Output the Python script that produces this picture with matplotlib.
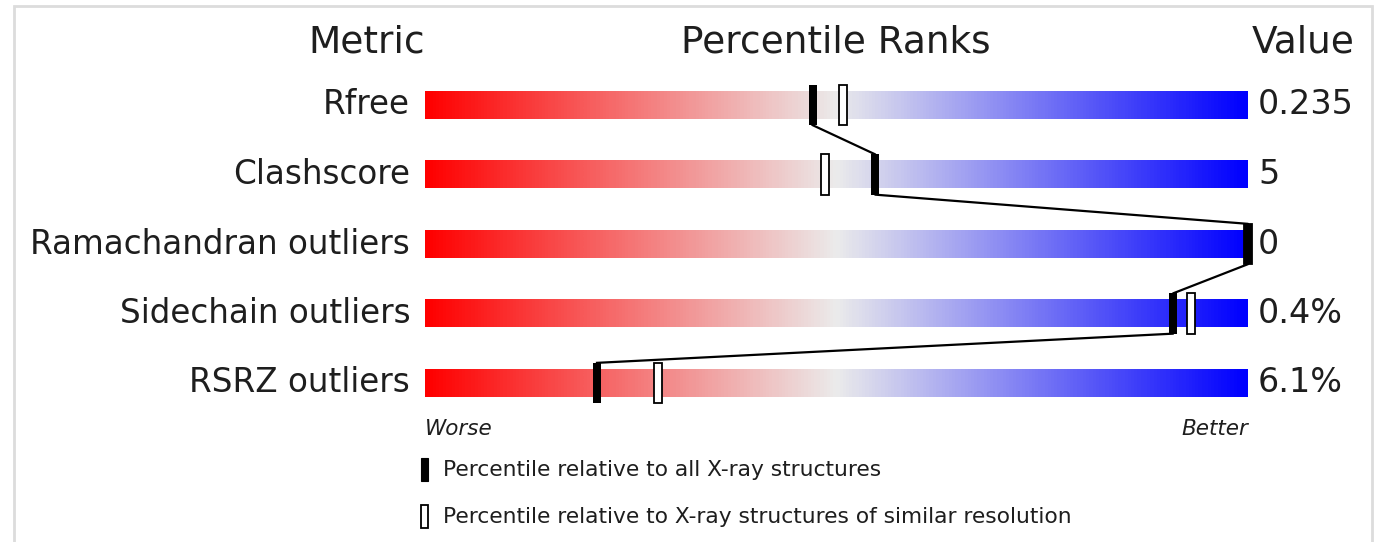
import matplotlib
matplotlib.use('Agg')
import matplotlib.pyplot as plt
import numpy as np
from matplotlib.colors import LinearSegmentedColormap
from matplotlib.patches import Rectangle

# Data read from the validation slider
metrics = ['Rfree', 'Clashscore', 'Ramachandran outliers', 'Sidechain outliers', 'RSRZ outliers']
values = ['0.235', '5', '0', '0.4%', '6.1%']
pct_all = [47.1, 54.7, 100.0, 90.9, 20.9]       # percentile vs all X-ray structures
pct_similar = [50.8, 48.6, 100.0, 93.1, 28.3]   # percentile vs similar resolution

W, H = 1388, 542
fig = plt.figure(figsize=(W / 100, H / 100), dpi=100)

def fx(px):
    return px / W

def fy(py):
    return 1 - py / H

# axes covers the bar area: x = percentile 0..100, y = row index
bar_left, bar_right = 425, 1248
row_top, row_bottom = 70.25, 417.75
ax = fig.add_axes([fx(bar_left), fy(row_bottom), fx(bar_right - bar_left), (row_bottom - row_top) / H])
ax.set_xlim(0, 100)
ax.set_ylim(len(metrics) - 0.5, -0.5)
ax.axis('off')

cmap = LinearSegmentedColormap.from_list('slider', ['#ff0000', '#ebebeb', '#0000ff'])
grad = np.linspace(0, 1, 256).reshape(1, -1)

bar_h = 0.40
mark_h = 0.58
mark_w = 0.95
text_col = '#1e1e1e'

for i, name in enumerate(metrics):
    ax.imshow(grad, cmap=cmap, aspect='auto', extent=[0, 100, i + bar_h / 2, i - bar_h / 2],
              interpolation='bilinear', zorder=1)
    ax.text(-1.8, i, name, ha='right', va='center', fontsize=23.5, color=text_col, clip_on=False)
    ax.text(101.2, i, values[i], ha='left', va='center', fontsize=24, color=text_col, clip_on=False)

# similar-resolution markers (open), then all-structures markers (filled)
ax.bar(pct_similar, mark_h, width=mark_w, bottom=[i - mark_h / 2 for i in range(len(metrics))],
       facecolor='white', edgecolor='black', linewidth=1.3, zorder=3, clip_on=False)
ax.bar(pct_all, mark_h, width=mark_w, bottom=[i - mark_h / 2 for i in range(len(metrics))],
       color='black', zorder=4, clip_on=False)

# connecting line: bottom of one filled marker to top of the next
lx, ly = [], []
for i in range(len(metrics) - 1):
    lx += [pct_all[i], pct_all[i + 1]]
    ly += [i + mark_h / 2, i + 1 - mark_h / 2]
ax.plot(lx, ly, color='black', linewidth=1.6, zorder=2, clip_on=False)

# headers
fig.text(fx(425), fy(42), 'Metric', ha='right', va='center', fontsize=27, color=text_col)
fig.text(fx(836), fy(42), 'Percentile Ranks', ha='center', va='center', fontsize=27, color=text_col)
fig.text(fx(1252), fy(42), 'Value', ha='left', va='center', fontsize=27, color=text_col)

# worse / better
fig.text(fx(425), fy(429), 'Worse', ha='left', va='center', fontsize=15.5, style='italic', color=text_col)
fig.text(fx(1248), fy(429), 'Better', ha='right', va='center', fontsize=15.5, style='italic', color=text_col)

# legend
fig.patches.append(Rectangle((fx(421), fy(481)), fx(7), 23 / H, transform=fig.transFigure,
                             facecolor='black', edgecolor='black', linewidth=0.8))
fig.patches.append(Rectangle((fx(421), fy(528)), fx(7), 23 / H, transform=fig.transFigure,
                             facecolor='white', edgecolor='black', linewidth=1.3))
fig.text(fx(443), fy(470), 'Percentile relative to all X-ray structures', ha='left', va='center',
         fontsize=15.7, color=text_col)
fig.text(fx(443), fy(517), 'Percentile relative to X-ray structures of similar resolution',
         ha='left', va='center', fontsize=15.7, color=text_col)

# light frame around the panel
fig.patches.append(Rectangle((fx(14), fy(560)), fx(1372 - 14), (560 - 6) / H, transform=fig.transFigure,
                             facecolor='none', edgecolor='#dcdcdc', linewidth=2.0, clip_on=False))

fig.savefig('out.png', dpi=100)
